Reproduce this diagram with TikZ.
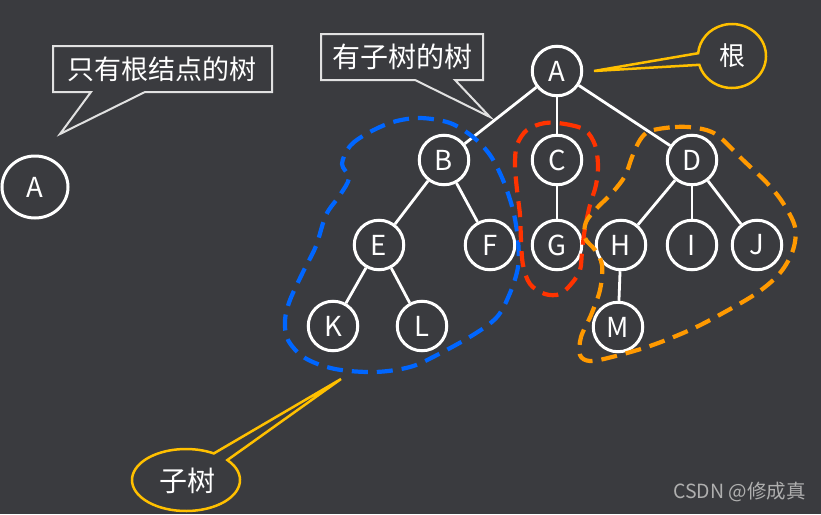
\documentclass[tikz,border=0pt]{standalone}
\usepackage{fontspec}
\setmainfont{Noto Sans CJK SC}
\usetikzlibrary{calc,shapes.geometric}
\definecolor{bg}{RGB}{58,59,63}
\definecolor{gold}{RGB}{255,192,0}
\definecolor{blueline}{RGB}{0,102,255}
\definecolor{redline}{RGB}{255,51,0}
\definecolor{orangeline}{RGB}{255,153,0}
\definecolor{boxline}{RGB}{225,225,225}
\definecolor{wmgray}{RGB}{175,175,175}
\tikzset{
  tn/.style={circle, draw=white, line width=3pt, minimum size=49.5pt, inner sep=0pt,
    font=\fontsize{27.5}{27.5}\selectfont, text=white},
  edge/.style={draw=white, line width=2.8pt},
  lbl/.style={text=white, inner sep=0pt, font=\fontsize{27}{27}\selectfont},
  rcallout/.style={draw=boxline, fill=bg, line width=2pt, line join=miter},
  ecallout/.style={draw=gold, fill=bg, line width=2.5pt, line join=miter},
  blob/.style={line width=4.2pt, dash pattern=on 16pt off 9pt},
}
\begin{document}
\begin{tikzpicture}[x=1pt,y=-1pt]
\useasboundingbox (0,0) rectangle (821,514);
\fill[bg] (0,0) rectangle (821,514);

% isolated root
\node[ellipse, draw=white, line width=3pt, minimum width=66pt, minimum height=62pt, inner sep=0pt,
  font=\fontsize{27.5}{27.5}\selectfont, text=white] (A0) at (35,187) {A};

% tree nodes
\node[tn] (A) at (557,71) {A};
\node[tn] (B) at (444,160) {B};
\node[tn] (C) at (557,160) {C};
\node[tn] (D) at (692,160) {D};
\node[tn] (E) at (379,245) {E};
\node[tn] (F) at (490,245) {F};
\node[tn] (G) at (557,245) {G};
\node[tn] (H) at (621,245) {H};
\node[tn] (I) at (692,245) {I};
\node[tn] (J) at (757,245) {J};
\node[tn] (K) at (333,326) {K};
\node[tn] (L) at (422,326) {L};
\node[tn] (M) at (618,327) {M};

% callout: only root
\coordinate (tip1) at (60,134);
\draw[rcallout] (53,46) -- (272,46) -- (272,92) -- (145,92) -- (tip1) -- (91,92) -- (53,92) -- cycle;
\node[lbl] (t1) at (162,69) {只有根结点的树};

% callout: tree with subtrees
\coordinate (tip2) at (490,117);
\draw[rcallout] (321,34) -- (483,34) -- (483,80) -- (455,80) -- (tip2) -- (415,80) -- (321,80) -- cycle;
\node[lbl, font=\fontsize{28}{28}\selectfont] (t2) at (402,57) {有子树的树};

% edges
\draw[edge] (A) -- (B);
\draw[edge] (A) -- (C);
\draw[edge] (A) -- (D);
\draw[edge] (B) -- (E);
\draw[edge] (B) -- (F);
\draw[edge] (E) -- (K);
\draw[edge] (E) -- (L);
\draw[edge] (C) -- (G);
\draw[edge] (D) -- (H);
\draw[edge] (D) -- (I);
\draw[edge] (D) -- (J);
\draw[edge] (H) -- (M);

% subtree outlines
\draw[blob, blueline] plot[smooth cycle, tension=0.55] coordinates {
 (342,164) (350,146) (368,133) (393,122) (420,118) (450,123) (473,137) (490,155)
 (503,180) (513,210) (518,240) (518,267) (510,293) (497,317) (473,335) (437,355)
 (410,367) (375,372) (335,369) (305,358) (288,340) (285,320) (290,300) (303,272)
 (316,246) (326,215) (340,195) (349,178)};

\draw[blob, redline] plot[smooth cycle, tension=0.55] coordinates {
 (545,123) (565,124) (585,130) (595,145) (598,165) (596,185) (590,205) (585,228)
 (582,252) (580,270) (572,283) (560,294) (545,294) (530,284) (523,265) (521,240)
 (520,215) (517,190) (515,165) (517,145) (527,130)};

\draw[blob, orangeline] plot[smooth cycle, tension=0.55] coordinates {
 (650,131) (675,127) (697,128) (717,135) (743,160) (767,183) (783,203) (795,227)
 (793,250) (780,273) (757,293) (723,313) (690,330) (650,346) (612,357) (590,361)
 (580,355) (581,337) (591,315) (600,290) (602,265) (595,250) (585,238) (586,222)
 (597,208) (612,193) (625,176) (632,157) (640,140)};

% callout: root
\coordinate (tip3) at (594,71);
\draw[ecallout] (tip3) -- ($(732,56)+(164:34 and 32)$) arc[start angle=164, end angle=-175, x radius=34, y radius=32] -- cycle;
\node[lbl, font=\fontsize{26}{26}\selectfont] (gen) at (732,56) {根};

% callout: subtree
\coordinate (tip4) at (341,379);
\draw[ecallout] (tip4) -- ($(186,480)+(-40:54 and 31)$) arc[start angle=-40, end angle=301, x radius=54, y radius=31] -- cycle;
\node[lbl, font=\fontsize{28}{28}\selectfont] (zishu) at (187,481) {子树};

% watermark
\node[anchor=east, text=wmgray, inner sep=0pt, font=\fontsize{19.5}{19.5}\selectfont] (wm) at (806,492) {CSDN @修成真};
\end{tikzpicture}
\end{document}
